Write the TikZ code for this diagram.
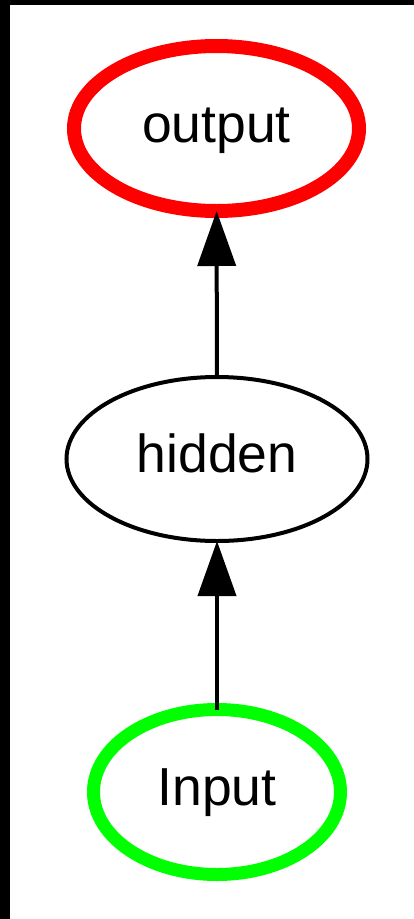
\documentclass[tikz,border=0pt]{standalone}
\usepackage{fontspec}
\setmainfont{Liberation Sans}
\usetikzlibrary{shapes.geometric,arrows.meta}

\begin{document}
\begin{tikzpicture}[x=1pt,y=-1pt]
        \useasboundingbox (0,0) rectangle (414,919);
        \fill[black] (0,0) rectangle (10,919);
        \fill[black] (0,0) rectangle (414,5);
        \begin{scope}[every node/.style={ellipse,draw=black,line width=4pt,inner sep=0pt,outer sep=0pt,minimum height=165pt,text height=38pt,text depth=11pt,font=\fontsize{53.5}{60}\selectfont}]
            \node[draw=red,line width=14pt,minimum width=285pt] (1) at (216.5,128.5) {output};
            \node[minimum width=301pt,minimum height=164pt] (2) at (217,459) {hidden};
            \node[draw=green,line width=13pt,minimum width=247pt] (3) at (217,792) {Input};
        \end{scope}
        \begin{scope}[every edge/.style={draw,line width=4pt}]
            \path [-{Triangle[width=38pt,length=55pt]}] (3) edge (2);
            \path [-{Triangle[width=38pt,length=55pt]}] (2) edge (1);
        \end{scope}
    \end{tikzpicture}
\end{document}
